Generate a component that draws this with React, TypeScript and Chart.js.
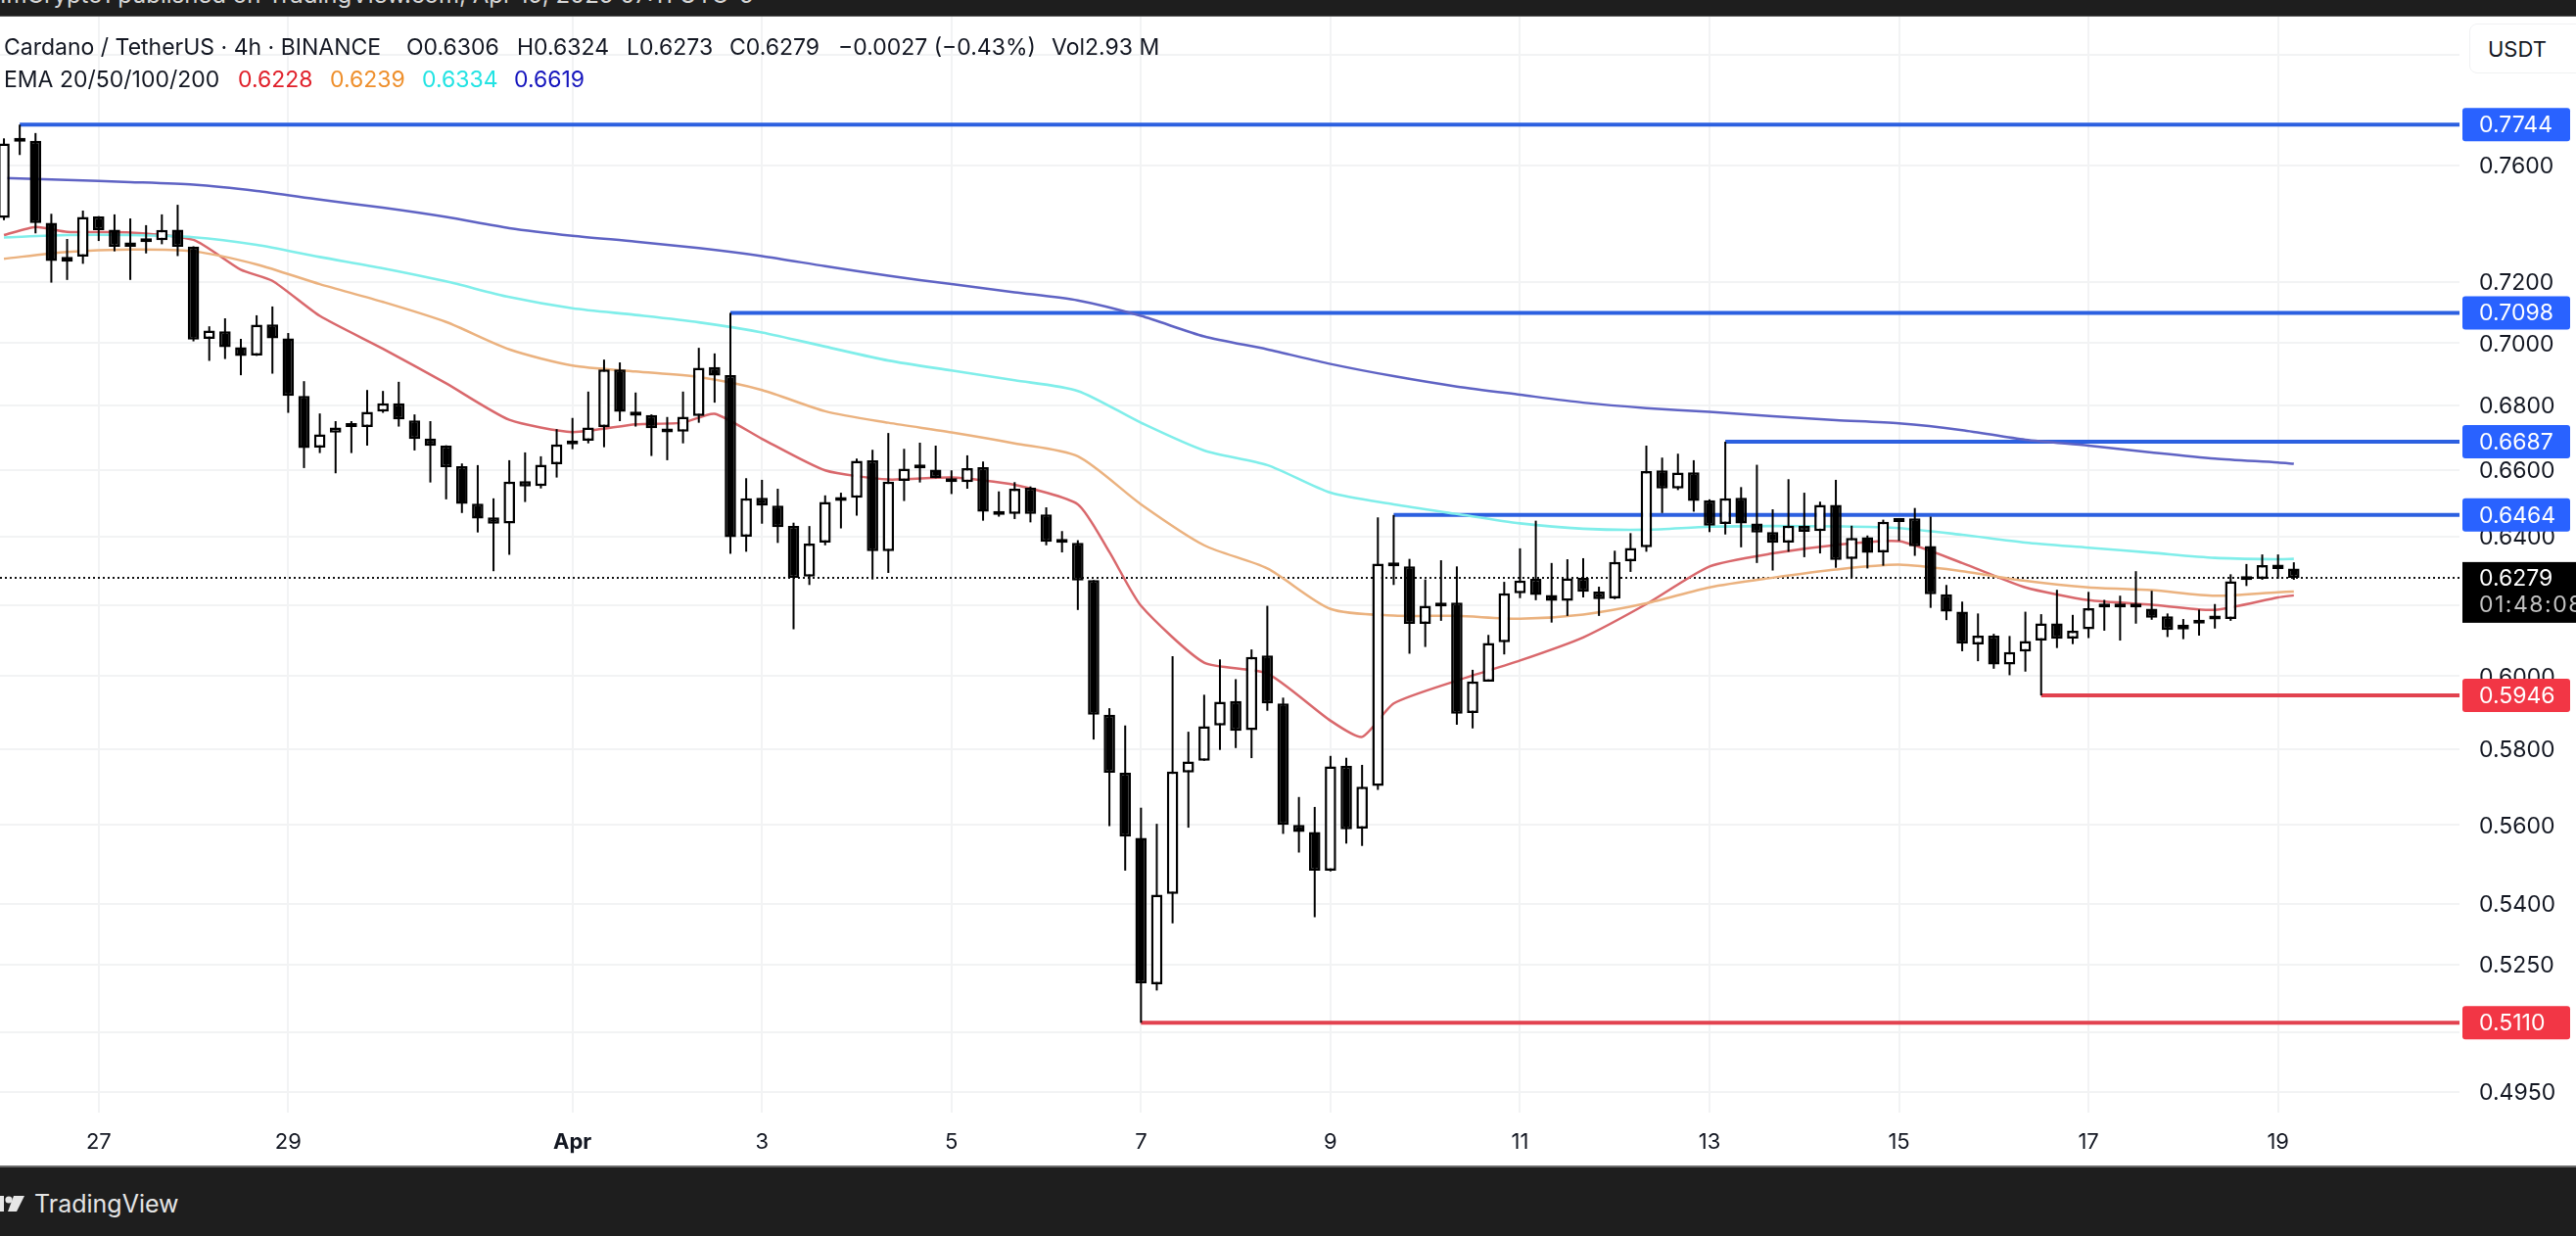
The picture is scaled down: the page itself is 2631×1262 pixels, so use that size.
import React, { useEffect, useRef } from "react";
import { Chart, registerables } from "chart.js";

Chart.register(...registerables);

const opens = [
  0.7417,0.7683,0.7686,0.7400,0.7268,0.7285,0.7422,0.7377,0.7318,0.7340,0.7341,0.7377,0.7319,0.7013,0.7038,0.6986,0.6959,0.7060,0.7015,0.6830,
  0.6669,0.6715,0.6733,0.6733,0.6781,0.6807,0.6753,0.6697,0.6675,0.6612,0.6498,0.6457,0.6439,0.6566,0.6551,0.6618,0.6690,0.6690,0.6733,0.6914,
  0.6781,0.6770,0.6726,0.6718,0.6767,0.6922,0.6896,0.6399,0.6516,0.6492,0.6431,0.6282,0.6382,0.6516,0.6516,0.6630,0.6357,0.6567,0.6605,0.6601,
  0.6575,0.6563,0.6609,0.6476,0.6467,0.6546,0.6466,0.6383,0.6381,0.6272,0.5893,0.5737,0.5567,0.5202,0.5424,0.5738,0.5769,0.5864,0.5931,0.5851,
  0.6057,0.5924,0.5600,0.5582,0.5483,0.5755,0.5591,0.5702,0.6324,0.6312,0.6146,0.6207,0.6207,0.5898,0.5984,0.6094,0.6234,0.6276,0.6229,0.6212,
  0.6279,0.6239,0.6219,0.6327,0.6368,0.6599,0.6544,0.6593,0.6508,0.6437,0.6516,0.6439,0.6413,0.6382,0.6432,0.6416,0.6494,0.6334,0.6398,0.6353,
  0.6443,0.6454,0.6372,0.6231,0.6181,0.6088,0.6113,0.6032,0.6068,0.6099,0.6148,0.6105,0.6131,0.6193,0.6195,0.6194,0.6190,0.6168,0.6130,0.6147,
  0.6159,0.6160,0.6272,0.6276,0.6317,0.6306,
];
const highs = [
  0.7695,0.7744,0.7714,0.7431,0.7345,0.7442,0.7423,0.7429,0.7415,0.7392,0.7429,0.7462,0.7320,0.7054,0.7080,0.7013,0.7090,0.7119,0.7032,0.6877,
  0.6775,0.6751,0.6751,0.6849,0.6846,0.6875,0.6772,0.6751,0.6676,0.6620,0.6615,0.6514,0.6630,0.6654,0.6642,0.6726,0.6761,0.6844,0.6946,0.6937,
  0.6841,0.6772,0.6764,0.6844,0.6984,0.6966,0.7098,0.6575,0.6570,0.6543,0.6441,0.6431,0.6523,0.6531,0.6635,0.6662,0.6714,0.6665,0.6684,0.6675,
  0.6599,0.6645,0.6626,0.6535,0.6563,0.6550,0.6487,0.6416,0.6389,0.6272,0.5911,0.5864,0.5645,0.5603,0.6055,0.5847,0.5948,0.6046,0.5991,0.6074,
  0.6198,0.5940,0.5673,0.5647,0.5782,0.5777,0.5758,0.6457,0.6464,0.6334,0.6274,0.6330,0.6312,0.6017,0.6115,0.6267,0.6365,0.6447,0.6322,0.6333,
  0.6336,0.6253,0.6358,0.6410,0.6675,0.6638,0.6650,0.6630,0.6511,0.6687,0.6548,0.6616,0.6481,0.6572,0.6531,0.6504,0.6570,0.6432,0.6403,0.6450,
  0.6452,0.6485,0.6459,0.6258,0.6210,0.6176,0.6118,0.6112,0.6181,0.6174,0.6244,0.6172,0.6238,0.6215,0.6227,0.6298,0.6241,0.6176,0.6160,0.6187,
  0.6203,0.6289,0.6319,0.6347,0.6347,0.6324,
];
const lows = [
  0.7409,0.7636,0.7364,0.7198,0.7207,0.7261,0.7338,0.7303,0.7207,0.7296,0.7327,0.7287,0.7005,0.6942,0.6948,0.6896,0.6958,0.6901,0.6777,0.6606,
  0.6652,0.6590,0.6652,0.6675,0.6777,0.6734,0.6660,0.6562,0.6511,0.6470,0.6412,0.6298,0.6346,0.6503,0.6544,0.6577,0.6664,0.6682,0.6670,0.6751,
  0.6734,0.6643,0.6630,0.6682,0.6746,0.6809,0.6349,0.6355,0.6438,0.6381,0.6131,0.6258,0.6374,0.6424,0.6462,0.6274,0.6293,0.6506,0.6562,0.6575,
  0.6527,0.6543,0.6447,0.6459,0.6452,0.6442,0.6374,0.6353,0.6186,0.5826,0.5597,0.5483,0.5110,0.5187,0.5351,0.5593,0.5769,0.5798,0.5803,0.5776,
  0.5904,0.5577,0.5529,0.5366,0.5481,0.5552,0.5546,0.5692,0.6258,0.6062,0.6081,0.6155,0.5866,0.5856,0.5984,0.6060,0.6220,0.6214,0.6150,0.6169,
  0.6222,0.6169,0.6217,0.6296,0.6355,0.6470,0.6539,0.6474,0.6413,0.6406,0.6368,0.6322,0.6300,0.6355,0.6339,0.6350,0.6308,0.6279,0.6306,0.6314,
  0.6387,0.6343,0.6192,0.6157,0.6069,0.6041,0.6020,0.6002,0.6012,0.5946,0.6078,0.6089,0.6106,0.6127,0.6099,0.6147,0.6158,0.6109,0.6103,0.6113,
  0.6133,0.6155,0.6255,0.6273,0.6276,0.6273,
];
const closes = [
  0.7677,0.7686,0.7399,0.7270,0.7284,0.7420,0.7375,0.7318,0.7333,0.7334,0.7376,0.7318,0.7011,0.7040,0.6986,0.6958,0.7059,0.7015,0.6830,0.6667,
  0.6710,0.6731,0.6735,0.6780,0.6807,0.6756,0.6695,0.6674,0.6609,0.6497,0.6453,0.6438,0.6565,0.6550,0.6616,0.6679,0.6679,0.6731,0.6914,0.6780,
  0.6768,0.6729,0.6716,0.6765,0.6920,0.6895,0.6398,0.6514,0.6492,0.6428,0.6279,0.6379,0.6503,0.6506,0.6628,0.6357,0.6565,0.6604,0.6607,0.6575,
  0.6563,0.6606,0.6474,0.6464,0.6543,0.6467,0.6384,0.6381,0.6271,0.5893,0.5737,0.5570,0.5204,0.5422,0.5740,0.5767,0.5862,0.5929,0.5849,0.6053,
  0.5924,0.5600,0.5582,0.5483,0.5754,0.5589,0.5700,0.6320,0.6312,0.6146,0.6198,0.6196,0.5896,0.5985,0.6092,0.6234,0.6271,0.6229,0.6212,0.6277,
  0.6238,0.6217,0.6325,0.6366,0.6597,0.6544,0.6592,0.6506,0.6432,0.6514,0.6439,0.6412,0.6381,0.6432,0.6414,0.6494,0.6331,0.6396,0.6352,0.6444,
  0.6452,0.6371,0.6231,0.6181,0.6090,0.6113,0.6032,0.6067,0.6098,0.6148,0.6104,0.6127,0.6191,0.6195,0.6193,0.6193,0.6164,0.6129,0.6144,0.6158,
  0.6161,0.6269,0.6274,0.6316,0.6304,0.6279,
];

const emaBars = [0,4,8,12,16,20,24,28,32,36,40,44,48,52,56,60,64,68,72,76,80,84,88,92,96,100,104,108,112,116,120,124,128,132,136,140,144,145];
const ema200 = [0.7555,0.7548,0.7541,0.7532,0.7510,0.7480,0.7452,0.7420,0.7382,0.7356,0.7336,0.7314,0.7287,0.7253,0.7221,0.7193,0.7166,0.7139,0.7088,0.7021,0.6979,0.6932,0.6893,0.6860,0.6834,0.6809,0.6792,0.6780,0.6766,0.6754,0.6744,0.6723,0.6693,0.6675,0.6654,0.6635,0.6623,0.6619];
const ema100 = [0.7350,0.7358,0.7358,0.7351,0.7325,0.7284,0.7246,0.7202,0.7150,0.7113,0.7091,0.7067,0.7034,0.6988,0.6943,0.6911,0.6880,0.6846,0.6746,0.6660,0.6615,0.6531,0.6496,0.6467,0.6439,0.6423,0.6420,0.6429,0.6431,0.6430,0.6425,0.6405,0.6382,0.6367,0.6352,0.6337,0.6333,0.6334];
const ema50 = [0.7278,0.7301,0.7309,0.7303,0.7259,0.7193,0.7134,0.7068,0.6979,0.6927,0.6908,0.6890,0.6849,0.6782,0.6746,0.6716,0.6682,0.6642,0.6496,0.6374,0.6306,0.6189,0.6170,0.6169,0.6161,0.6173,0.6205,0.6251,0.6279,0.6303,0.6317,0.6298,0.6270,0.6251,0.6243,0.6227,0.6237,0.6239];
const ema20Bars = [0,2,4,8,12,15,17,20,24,28,32,36,40,43,45,48,52,56,60,64,68,70,72,76,80,84,86,88,92,96,100,104,108,112,116,120,124,128,132,136,140,144,145];
const ema20 = [0.7358,0.7386,0.7369,0.7367,0.7342,0.7241,0.7204,0.7088,0.6981,0.6870,0.6755,0.6717,0.6741,0.6746,0.6774,0.6696,0.6599,0.6571,0.6577,0.6555,0.6496,0.6354,0.6198,0.6037,0.6007,0.5877,0.5833,0.5924,0.5987,0.6043,0.6108,0.6203,0.6312,0.6350,0.6375,0.6386,0.6322,0.6251,0.6214,0.6201,0.6186,0.6222,0.6228];

const levelBars = [1, 46, 109, 88, 129, 72];
const levelPrices = [0.7744, 0.7098, 0.6687, 0.6464, 0.5946, 0.5110];
const levelKinds = ["res", "res", "res", "res", "sup", "sup"];

const lastPrice = 0.6279;
const countdown = "01:48:08";

const priceTicks = [0.8, 0.76, 0.72, 0.7, 0.68, 0.66, 0.64, 0.62, 0.6, 0.58, 0.56, 0.54, 0.525, 0.5087, 0.495];
const unlabeledPriceTicks = [0.5087];
const dateTickBars = [6, 18, 36, 48, 60, 72, 84, 96, 108, 120, 132, 144];
const dateTickLabels = ["27", "29", "Apr", "3", "5", "7", "9", "11", "13", "15", "17", "19"];

const headerParts: [string, number][] = [
  ["Cardano / TetherUS · 4h · BINANCE", 4],
  ["O0.6306", 415],
  ["H0.6324", 528],
  ["L0.6273", 640],
  ["C0.6279", 745],
  ["−0.0027 (−0.43%)", 856],
  ["Vol2.93 M", 1074],
];
const emaLegend: [string, number, string][] = [
  ["EMA 20/50/100/200", 4, "#131722"],
  ["0.6228", 243, "#e0202a"],
  ["0.6239", 337, "#ee8f2c"],
  ["0.6334", 431, "#22e3e3"],
  ["0.6619", 525, "#1414bd"],
];

const FONT = "Inter, 'Liberation Sans', sans-serif";
const X_MIN = -0.25;
const X_MAX = 155.49;

const overlayPlugin = {
  id: "priceLabels",
  afterDraw(chart: any) {
    const { ctx, scales } = chart;
    const y = scales.y;
    const left = 2515;
    ctx.save();
    ctx.textBaseline = "middle";
    ctx.textAlign = "left";
    ctx.font = `23px ${FONT}`;
    const py = y.getPixelForValue(lastPrice);
    ctx.fillStyle = "#000000";
    ctx.fillRect(left, py - 16, 2631 - left, 62);
    ctx.fillStyle = "#ffffff";
    ctx.fillText(lastPrice.toFixed(4), 2532, py + 1);
    ctx.fillStyle = "#c2c2c2";
    ctx.letterSpacing = "1.5px";
    ctx.fillText(countdown, 2532, py + 28);
    ctx.letterSpacing = "0px";
    levelPrices.forEach((p, i) => {
      const yy = y.getPixelForValue(p);
      ctx.fillStyle = levelKinds[i] === "res" ? "#2962ff" : "#f23645";
      ctx.beginPath();
      ctx.roundRect(left, yy - 17, 110, 34, 3);
      ctx.fill();
      ctx.fillStyle = "#ffffff";
      ctx.fillText(p.toFixed(4), 2532, yy + 1);
    });
    ctx.restore();
  },
};

export default function App() {
  const ref = useRef<HTMLCanvasElement | null>(null);

  useEffect(() => {
    document.body.style.margin = "0";
    const upIdx = opens.map((_, i) => i).filter((i) => closes[i] >= opens[i]);
    const downIdx = opens.map((_, i) => i).filter((i) => closes[i] < opens[i]);
    const bodyPoint = (i: number) => ({ x: i, y: [opens[i], closes[i]] });
    const linePts = (xs: number[], ys: number[]) => xs.map((x, i) => ({ x, y: ys[i] }));
    const lineDs = (data: any[], color: string, width: number, order: number, extra: any = {}) => ({
      type: "line",
      data,
      borderColor: color,
      borderWidth: width,
      pointRadius: 0,
      order,
      ...extra,
    });
    const chart = new Chart(ref.current as HTMLCanvasElement, {
      type: "bar",
      data: {
        datasets: [
          {
            data: downIdx.map(bodyPoint),
            backgroundColor: "#000000",
            borderColor: "#000000",
            borderWidth: 2.5,
            borderSkipped: false,
            grouped: false,
            barPercentage: 0.9,
            maxBarThickness: 12,
            minBarLength: 4,
            order: 0,
          },
          {
            data: upIdx.map(bodyPoint),
            backgroundColor: "#ffffff",
            borderColor: "#000000",
            borderWidth: 2.5,
            borderSkipped: false,
            grouped: false,
            barPercentage: 0.9,
            maxBarThickness: 12,
            minBarLength: 4,
            order: 0,
          },
          {
            data: opens.map((_, i) => ({ x: i, y: [lows[i], highs[i]] })),
            backgroundColor: "#000000",
            borderWidth: 0,
            grouped: false,
            barPercentage: 0.9,
            maxBarThickness: 2,
            order: 1,
          },
          lineDs(linePts(emaBars, ema200), "#5f63c4", 2.5, 2, { tension: 0.25 }),
          lineDs(linePts(emaBars, ema100), "#80eeea", 2.6, 2, { tension: 0.25 }),
          lineDs(linePts(emaBars, ema50), "#ebb27f", 2.5, 2, { tension: 0.25 }),
          lineDs(linePts(ema20Bars, ema20), "#d9686c", 2.5, 2, { tension: 0.2 }),
          lineDs(
            [{ x: X_MIN, y: lastPrice }, { x: X_MAX, y: lastPrice }],
            "#111111",
            2,
            3,
            { borderDash: [2, 3] }
          ),
          ...levelPrices.map((p, i) =>
            lineDs(
              [{ x: levelBars[i], y: p }, { x: X_MAX, y: p }],
              levelKinds[i] === "res" ? "#2c60e0" : "#e2424f",
              4,
              4
            )
          ),
        ],
      } as any,
      plugins: [overlayPlugin],
      options: {
        animation: false,
        responsive: false,
        devicePixelRatio: 1,
        layout: { padding: { top: 17, left: 0, right: 0, bottom: 0 } },
        plugins: { legend: { display: false }, tooltip: { enabled: false }, title: { display: false } },
        scales: {
          x: {
            type: "linear",
            offset: false,
            min: X_MIN,
            max: X_MAX,
            afterBuildTicks: (s: any) => {
              s.ticks = dateTickBars.map((value) => ({ value }));
            },
            afterFit: (s: any) => {
              s.height = 126;
              s.paddingLeft = 0;
              s.paddingRight = 0;
            },
            grid: { color: "#f2f3f4", lineWidth: 2, drawTicks: false, offset: false },
            border: { display: false },
            ticks: {
              autoSkip: false,
              maxRotation: 0,
              minRotation: 0,
              padding: 17,
              color: "#131722",
              font: (c: any) => ({
                family: FONT,
                size: 22,
                weight: c.index === dateTickLabels.indexOf("Apr") ? "700" : "400",
              }),
              callback: (_v: any, i: number) => dateTickLabels[i],
            },
          },
          y: {
            type: "logarithmic",
            position: "right",
            min: 0.4902,
            max: 0.8141,
            bounds: "data",
            afterBuildTicks: (s: any) => {
              s.ticks = priceTicks.map((value) => ({ value }));
            },
            afterFit: (s: any) => {
              s.width = 119;
              s.paddingTop = 0;
              s.paddingBottom = 0;
            },
            grid: { color: "#f2f3f4", lineWidth: 2, drawTicks: false },
            border: { display: false },
            ticks: {
              autoSkip: false,
              padding: 20,
              labelOffset: 1.5,
              color: "#131722",
              font: { family: FONT, size: 23 },
              callback: (v: any) => (unlabeledPriceTicks.includes(v) ? "" : Number(v).toFixed(4)),
            },
          },
        },
      } as any,
    });
    return () => chart.destroy();
  }, []);

  const abs: React.CSSProperties = { position: "absolute", whiteSpace: "nowrap", lineHeight: 1 };

  return (
    <div style={{ position: "fixed", left: 0, top: 0, width: 2631, height: 1262, overflow: "hidden", background: "#fff", fontFamily: FONT }}>
      <canvas ref={ref} width={2631} height={1262} style={{ display: "block", width: 2631, height: 1262 }} />
      <div style={{ ...abs, left: 0, top: 0, width: 2631, height: 16, background: "#1e1e1e", borderBottom: "1px solid #555", overflow: "hidden" }}>
        <span style={{ ...abs, left: 0, top: -17, fontSize: 24, color: "#d6d6d6" }}>
          ImCrypto1 published on TradingView.com, Apr 19, 2025 07:11 UTC-5
        </span>
      </div>
      {headerParts.map(([t, x]) => (
        <span key={t} style={{ ...abs, left: x, top: 37, fontSize: 23, color: "#131722" }}>{t}</span>
      ))}
      {emaLegend.map(([t, x, c]) => (
        <span key={t} style={{ ...abs, left: x, top: 70, fontSize: 23, color: c }}>{t}</span>
      ))}
      <div style={{ ...abs, left: 2522, top: 24, width: 120, height: 51, boxSizing: "border-box", background: "#fff", border: "1px solid #f0f1f2", borderRadius: 8 }}>
        <span style={{ ...abs, left: 18, top: 14, fontSize: 22, color: "#131722" }}>USDT</span>
      </div>
      <div style={{ position: "absolute", left: 0, top: 1190, width: 2631, height: 72, background: "#1e1e1e", borderTop: "2px solid #6b6b6b", boxSizing: "border-box" }}>
        <svg width="30" height="24" viewBox="0 0 30 24" style={{ position: "absolute", left: 0, top: 25 }}>
          <rect x="0" y="4" width="4" height="16" fill="#e6e6e6" />
          <circle cx="9" cy="8" r="3.6" fill="#e6e6e6" />
          <path d="M14 4 H25 L17 20 H8 Z" fill="#e6e6e6" />
        </svg>
        <span style={{ ...abs, left: 35, top: 25, fontSize: 25, color: "#e4e4e4" }}>TradingView</span>
      </div>
    </div>
  );
}
